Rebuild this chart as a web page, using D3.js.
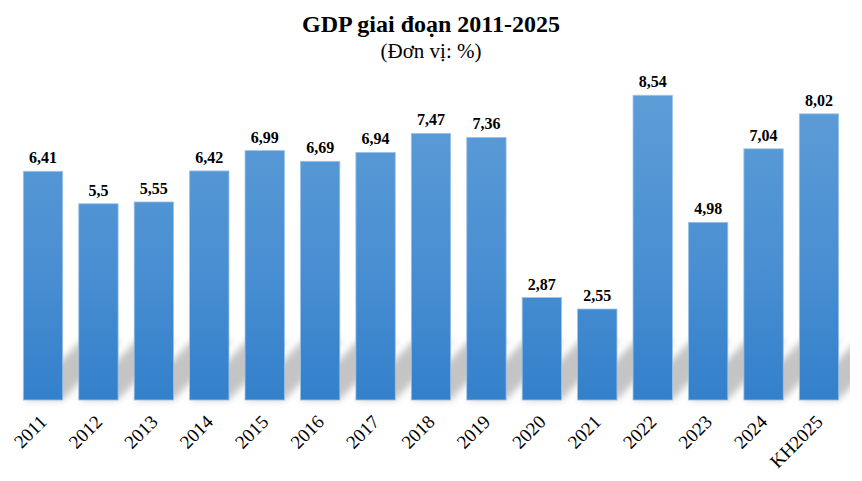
<!DOCTYPE html>
<html>
<head>
<meta charset="utf-8">
<script src="https://cdn.jsdelivr.net/npm/d3@7"></script>
<style>
  body { margin: 0; background: #fff; }
  svg { display: block; font-family: "Liberation Serif", "Times New Roman", serif; }
</style>
</head>
<body>
<div id="chart"></div>
<script>
var width = 862,
    height = 481;

// data
var years = ["2011", "2012", "2013", "2014", "2015", "2016", "2017", "2018",
             "2019", "2020", "2021", "2022", "2023", "2024", "KH2025"];
var growth = [6.41, 5.5, 5.55, 6.42, 6.99, 6.69, 6.94, 7.47,
              7.36, 2.87, 2.55, 8.54, 4.98, 7.04, 8.02];
var labels = ["6,41", "5,5", "5,55", "6,42", "6,99", "6,69", "6,94", "7,47",
              "7,36", "2,87", "2,55", "8,54", "4,98", "7,04", "8,02"];

var data = years.map(function(y, i) { return {year: y, value: growth[i], label: labels[i]}; });

var svg = d3.select("#chart").append("svg")
    .attr("width", width)
    .attr("height", height);

var x = d3.scaleBand()
    .domain(years)
    .range([15.3, 846.7])
    .paddingInner(0.29)
    .paddingOuter(0.145);

var y = d3.scaleLinear()
    .domain([0, 10])
    .range([400, 43.2]);

var defs = svg.append("defs");

var grad = defs.append("linearGradient")
    .attr("id", "barGrad")
    .attr("gradientUnits", "userSpaceOnUse")
    .attr("x1", 0).attr("y1", y(8.54))
    .attr("x2", 0).attr("y2", y(0));
grad.append("stop").attr("offset", "0%").attr("stop-color", "#5d9dd7");
grad.append("stop").attr("offset", "55%").attr("stop-color", "#4a8fd2");
grad.append("stop").attr("offset", "100%").attr("stop-color", "#3380cb");

defs.append("filter")
    .attr("id", "blur")
    .attr("x", "-20%").attr("y", "-20%")
    .attr("width", "140%").attr("height", "140%")
  .append("feGaussianBlur")
    .attr("stdDeviation", 3.5);

/* perspective shadow behind each bar */
var shH = 60, shK = 58;
svg.append("g")
    .attr("filter", "url(#blur)")
  .selectAll("path")
  .data(data)
  .enter().append("path")
    .attr("fill", "#c4c4c4")
    .attr("d", function(d) {
      var x0 = x(d.year), x1 = x0 + x.bandwidth(), b = y(0);
      return "M" + x0 + "," + b + "L" + x1 + "," + b +
             "L" + (x1 + shK) + "," + (b - shH) + "L" + (x0 + shK) + "," + (b - shH) + "Z";
    });

// clip the last shadow at the chart edge
svg.append("rect")
    .attr("x", 850).attr("y", 300).attr("width", 20).attr("height", 110)
    .attr("fill", "#fff");

/* bars */
svg.append("g").selectAll("rect")
  .data(data)
  .enter().append("rect")
    .attr("x", function(d) { return x(d.year); })
    .attr("y", function(d) { return y(d.value); })
    .attr("width", x.bandwidth())
    .attr("height", function(d) { return y(0) - y(d.value); })
    .attr("fill", "url(#barGrad)")
    .attr("stroke", "#9cc2e8")
    .attr("stroke-width", 0.8);

/* value labels */
svg.append("g").selectAll("text")
  .data(data)
  .enter().append("text")
    .attr("x", function(d) { return x(d.year) + x.bandwidth() / 2; })
    .attr("y", function(d) { return y(d.value) - 8; })
    .attr("text-anchor", "middle")
    .style("font-size", "16px")
    .style("font-weight", "bold")
    .attr("fill", "#000")
    .text(function(d) { return d.label; });

/* x axis labels */
var xAxis = d3.axisBottom(x).tickSize(0).tickPadding(0);
var gx = svg.append("g")
    .attr("transform", "translate(0," + y(0) + ")")
    .call(xAxis);
gx.select(".domain").remove();
gx.selectAll("text")
    .style("font-family", "'Liberation Serif', 'Times New Roman', serif")
    .style("font-size", "19px")
    .attr("fill", "#000")
    .attr("text-anchor", "end")
    .attr("y", 0)
    .attr("dy", 0)
    .attr("transform", "translate(5,23) rotate(-45)");

/* titles */
svg.append("text")
    .attr("x", 431).attr("y", 32)
    .attr("text-anchor", "middle")
    .style("font-size", "24px")
    .style("font-weight", "bold")
    .text("GDP giai đoạn 2011-2025");

svg.append("text")
    .attr("x", 431).attr("y", 58)
    .attr("text-anchor", "middle")
    .style("font-size", "21px")
    .text("(Đơn vị: %)");
</script>
</body>
</html>
